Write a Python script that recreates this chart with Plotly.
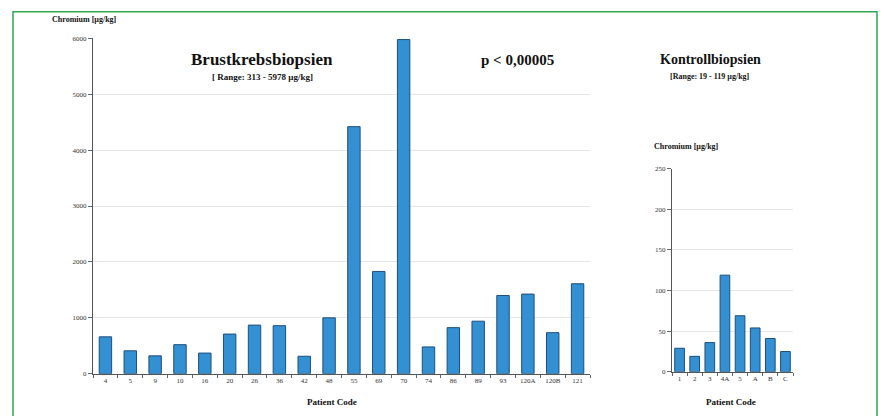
import plotly.graph_objects as go

# Data
cancer_codes = ["4", "5", "9", "10", "16", "20", "26", "36", "42", "48",
                "55", "69", "70", "74", "86", "89", "93", "120A", "120B", "121"]
cancer_values = [660, 410, 320, 520, 370, 710, 870, 860, 313, 1000,
                 4420, 1830, 5978, 480, 825, 940, 1400, 1425, 735, 1610]
control_codes = ["1", "2", "3", "4A", "5", "A", "B", "C"]
control_values = [29, 19, 36, 119, 69, 54, 41, 25]
cancer_ticks = [0, 1000, 2000, 3000, 4000, 5000, 6000]
control_ticks = [0, 50, 100, 150, 200, 250]

W, H = 881, 416
def px(x):
    return x / W
def py(y):
    return 1 - y / H

SERIF = "Liberation Serif"
BAR = "#3390d3"
EDGE = "#1d4f7a"

fig = go.Figure()
fig.add_trace(go.Bar(x=cancer_codes, y=cancer_values, xaxis="x", yaxis="y",
                     marker=dict(color=BAR, line=dict(color=EDGE, width=1)),
                     width=0.5, showlegend=False))
fig.add_trace(go.Bar(x=control_codes, y=control_values, xaxis="x2", yaxis="y2",
                     marker=dict(color=BAR, line=dict(color=EDGE, width=1)),
                     width=0.64, showlegend=False))

axis_common = dict(showline=True, linecolor="#555", linewidth=1,
                   tickfont=dict(family=SERIF, size=7, color="#333"))

fig.update_layout(
    width=W, height=H, margin=dict(l=0, r=0, t=0, b=0),
    paper_bgcolor="white", plot_bgcolor="white",
    xaxis=dict(domain=[px(93), px(590)], type="category", anchor="y",
               ticks="outside", ticklen=3, tickson="boundaries", tickcolor="#666",
               tickangle=0, showgrid=False, **axis_common),
    yaxis=dict(domain=[py(377), py(35)], range=[0, 6000], anchor="x",
               tickvals=cancer_ticks, ticks="outside", ticklen=4, tickcolor="#666",
               showgrid=True, gridcolor="#e6e6e6", gridwidth=1, zeroline=False,
               **axis_common),
    xaxis2=dict(domain=[px(672), px(793)], type="category", anchor="y2",
                ticks="outside", ticklen=3, tickson="boundaries", tickcolor="#666",
                tickangle=0, showgrid=False, **axis_common),
    yaxis2=dict(domain=[py(375), py(168)], range=[0, 250], anchor="x2",
                tickvals=control_ticks, ticks="outside", ticklen=4, tickcolor="#666",
                showgrid=True, gridcolor="#e6e6e6", gridwidth=1, zeroline=False,
                **axis_common),
    bargap=0.5,
)

def ann(text, x, y, size, bold=True, xanchor="center"):
    t = f"<b>{text}</b>" if bold else text
    fig.add_annotation(text=t, x=px(x), y=py(y), xref="paper", yref="paper",
                       showarrow=False, xanchor=xanchor, yanchor="middle",
                       font=dict(family=SERIF, size=size, color="#111"))

ann("Chromium [µg/kg]", 50, 16, 8, xanchor="left")
ann("Brustkrebsbiopsien", 262, 57, 17)
ann("[ Range: 313 - 5978 µg/kg]", 262, 74, 9)
ann("p < 0,00005", 517, 57, 15)
ann("Kontrollbiopsien", 710, 57, 14)
ann("[Range: 19 - 119 µg/kg]", 710, 74, 8)
ann("Patient Code", 332, 406, 9)
ann("Chromium [µg/kg]", 652, 145, 8, xanchor="left")
ann("Patient Code", 731, 406, 9)

# green frame
fig.add_shape(type="rect", xref="paper", yref="paper",
              x0=px(13), x1=px(877), y0=py(425), y1=py(8),
              line=dict(color="#2fa84f", width=1.5))

fig.write_html("out.html", config={"displayModeBar": False},
               post_script="document.body.style.margin='0';document.body.style.overflow='hidden';")
